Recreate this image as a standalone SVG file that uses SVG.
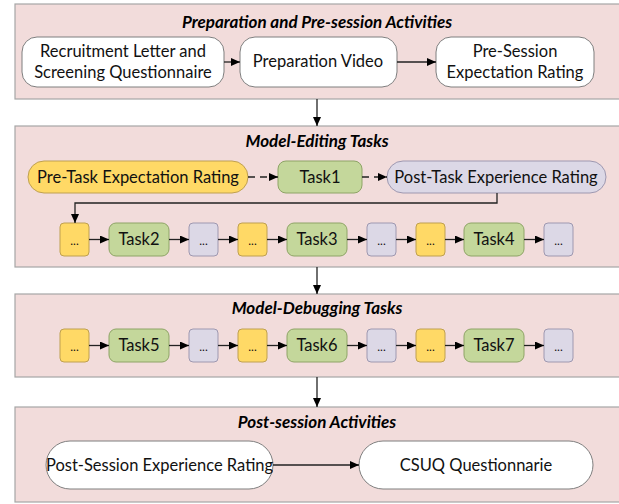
<svg xmlns="http://www.w3.org/2000/svg" width="619" height="504" viewBox="0 0 619 504">
<defs>
<marker id="ah" markerWidth="10" markerHeight="8" refX="9" refY="4" orient="auto" markerUnits="userSpaceOnUse">
<path d="M0,0 L9,4 L0,8 Z" fill="#000"/>
</marker>
<style>
.panel{fill:#F2DCDB;stroke:#A6A6A6;stroke-width:1.2}
.title{font-family:Lato,"Liberation Sans",sans-serif;font-weight:bold;font-style:italic;font-size:17px;fill:#000;text-anchor:middle}
.lbl{font-family:Lato,"Liberation Sans",sans-serif;font-size:16.5px;fill:#111;text-anchor:middle}
.dots{font-family:Lato,"Liberation Sans",sans-serif;font-size:12px;fill:#111;text-anchor:middle}
.white{fill:#fff;stroke:#7F7F7F;stroke-width:1}
.yellow{fill:#FFD966;stroke:#BFA050;stroke-width:1}
.green{fill:#C4D79B;stroke:#8EA466;stroke-width:1}
.lav{fill:#DCD8E6;stroke:#9E98B0;stroke-width:1}
.conn{stroke:#222;stroke-width:1.3;fill:none;marker-end:url(#ah)}
.dash{stroke-dasharray:7,5}
</style>
</defs>

<!-- Panels -->
<g id="panel1"><rect class="panel" x="15" y="4" width="612" height="95"/><text class="title" x="317" y="28">Preparation and Pre-session Activities</text></g>
<g id="panel2"><rect class="panel" x="15" y="126" width="612" height="141"/><text class="title" x="317" y="147">Model-Editing Tasks</text></g>
<g id="panel3"><rect class="panel" x="15" y="294" width="612" height="83"/><text class="title" x="317" y="314">Model-Debugging Tasks</text></g>
<g id="panel4"><rect class="panel" x="15" y="407" width="612" height="95"/><text class="title" x="317" y="428">Post-session Activities</text></g>

<!-- Panel 1 nodes -->
<g id="recruit"><rect class="white" x="22" y="37" width="202" height="50" rx="15"/><text class="lbl" x="123" y="57">Recruitment Letter and</text><text class="lbl" x="123" y="78">Screening Questionnaire</text></g>
<g id="prepvideo"><rect class="white" x="240" y="37" width="157" height="50" rx="15"/><text class="lbl" x="318" y="67">Preparation Video</text></g>
<g id="presession"><rect class="white" x="436" y="37" width="158" height="50" rx="15"/><text class="lbl" x="515" y="57">Pre-Session</text><text class="lbl" x="515" y="78">Expectation Rating</text></g>

<!-- Panel 2 nodes -->
<g id="pretask"><rect class="yellow" x="28" y="161" width="220" height="32" rx="16"/><text class="lbl" x="138" y="182.5">Pre-Task Expectation Rating</text></g>
<g id="task1"><rect class="green" x="278" y="161" width="84" height="32" rx="8"/><text class="lbl" x="320" y="182.5">Task1</text></g>
<g id="posttask"><rect class="lav" x="387" y="161" width="219" height="32" rx="16"/><text class="lbl" x="496" y="182.5">Post-Task Experience Rating</text></g>

<g id="e1"><rect class="yellow" x="60" y="223" width="29" height="33" rx="4"/><text class="dots" x="74.5" y="245">...</text></g>
<g id="task2"><rect class="green" x="109" y="223" width="60" height="33" rx="7"/><text class="lbl" x="139" y="245">Task2</text></g>
<g id="e2"><rect class="lav" x="189" y="223" width="29" height="33" rx="4"/><text class="dots" x="203.5" y="245">...</text></g>
<g id="e3"><rect class="yellow" x="238" y="223" width="29" height="33" rx="4"/><text class="dots" x="252.5" y="245">...</text></g>
<g id="task3"><rect class="green" x="287" y="223" width="60" height="33" rx="7"/><text class="lbl" x="317" y="245">Task3</text></g>
<g id="e4"><rect class="lav" x="367" y="223" width="29" height="33" rx="4"/><text class="dots" x="381.5" y="245">...</text></g>
<g id="e5"><rect class="yellow" x="416" y="223" width="29" height="33" rx="4"/><text class="dots" x="430.5" y="245">...</text></g>
<g id="task4"><rect class="green" x="464" y="223" width="60" height="33" rx="7"/><text class="lbl" x="494" y="245">Task4</text></g>
<g id="e6"><rect class="lav" x="544" y="223" width="29" height="33" rx="4"/><text class="dots" x="558.5" y="245">...</text></g>

<!-- Panel 3 nodes -->
<g id="e7"><rect class="yellow" x="60" y="329" width="29" height="33" rx="4"/><text class="dots" x="74.5" y="351">...</text></g>
<g id="task5"><rect class="green" x="109" y="329" width="60" height="33" rx="7"/><text class="lbl" x="139" y="351">Task5</text></g>
<g id="e8"><rect class="lav" x="189" y="329" width="29" height="33" rx="4"/><text class="dots" x="203.5" y="351">...</text></g>
<g id="e9"><rect class="yellow" x="238" y="329" width="29" height="33" rx="4"/><text class="dots" x="252.5" y="351">...</text></g>
<g id="task6"><rect class="green" x="287" y="329" width="60" height="33" rx="7"/><text class="lbl" x="317" y="351">Task6</text></g>
<g id="e10"><rect class="lav" x="367" y="329" width="29" height="33" rx="4"/><text class="dots" x="381.5" y="351">...</text></g>
<g id="e11"><rect class="yellow" x="416" y="329" width="29" height="33" rx="4"/><text class="dots" x="430.5" y="351">...</text></g>
<g id="task7"><rect class="green" x="464" y="329" width="60" height="33" rx="7"/><text class="lbl" x="494" y="351">Task7</text></g>
<g id="e12"><rect class="lav" x="544" y="329" width="29" height="33" rx="4"/><text class="dots" x="558.5" y="351">...</text></g>

<!-- Panel 4 nodes -->
<g id="postsession"><rect class="white" x="46" y="441" width="227" height="48" rx="24"/><text class="lbl" x="159.5" y="471">Post-Session Experience Rating</text></g>
<g id="csuq"><rect class="white" x="359" y="441" width="234" height="48" rx="24"/><text class="lbl" x="476" y="471">CSUQ Questionnarie</text></g>

<!-- Connectors -->
<g id="connectors">
<path class="conn" d="M224,62 H240"/>
<path class="conn" d="M397,62 H436"/>
<path class="conn" d="M317,99 V126"/>
<path class="conn dash" d="M248,177 H278"/>
<path class="conn dash" d="M362,177 H387"/>
<path class="conn" d="M497,193 V203 H75 V223"/>
<path class="conn" d="M89,239.5 H109"/>
<path class="conn" d="M169,239.5 H189"/>
<path class="conn" d="M218,239.5 H238"/>
<path class="conn" d="M267,239.5 H287"/>
<path class="conn" d="M347,239.5 H367"/>
<path class="conn" d="M396,239.5 H416"/>
<path class="conn" d="M445,239.5 H464"/>
<path class="conn" d="M524,239.5 H544"/>
<path class="conn" d="M317,267 V294"/>
<path class="conn" d="M89,345.5 H109"/>
<path class="conn" d="M169,345.5 H189"/>
<path class="conn" d="M218,345.5 H238"/>
<path class="conn" d="M267,345.5 H287"/>
<path class="conn" d="M347,345.5 H367"/>
<path class="conn" d="M396,345.5 H416"/>
<path class="conn" d="M445,345.5 H464"/>
<path class="conn" d="M524,345.5 H544"/>
<path class="conn" d="M317,377 V407"/>
<path class="conn" d="M273,465 H359"/>
</g>
</svg>
